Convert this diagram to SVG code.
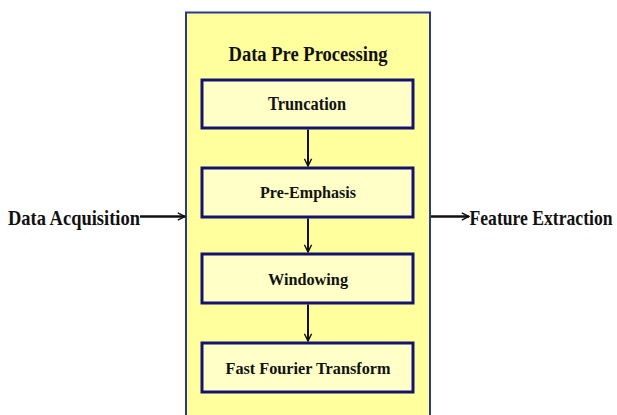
<svg xmlns="http://www.w3.org/2000/svg" width="617" height="415" viewBox="0 0 617 415">
<style>
text{font-family:"Liberation Serif","Times New Roman",serif;font-weight:bold;fill:#111;text-anchor:middle}
.box{fill:#FFFFC8;stroke:#14146E;stroke-width:3}
.conn{stroke:#111;stroke-width:2;fill:none}
.side{stroke:#111;stroke-width:2.6;fill:none}
</style>
<defs>
<marker id="chev" viewBox="0 0 10 10" refX="9" refY="5" markerWidth="9" markerHeight="9" markerUnits="userSpaceOnUse" orient="auto">
<path d="M1,1 L9,5 L1,9" fill="none" stroke="#111" stroke-width="1.6"/>
</marker>
</defs>
<rect width="617" height="415" fill="#fff"/>
<g id="container">
<rect x="186" y="12.5" width="244" height="420" fill="#FFFF9E" stroke="#2A3A8C" stroke-width="2"/>
<text x="308" y="61" font-size="20" textLength="159" lengthAdjust="spacingAndGlyphs">Data Pre Processing</text>
</g>
<g id="truncation">
<rect class="box" x="202" y="80" width="211" height="48"/>
<text x="307" y="110" font-size="18" textLength="78" lengthAdjust="spacingAndGlyphs">Truncation</text>
</g>
<g id="preemphasis">
<rect class="box" x="202" y="168" width="211" height="49"/>
<text x="308" y="197.5" font-size="17.5" textLength="96" lengthAdjust="spacingAndGlyphs">Pre-Emphasis</text>
</g>
<g id="windowing">
<rect class="box" x="202" y="254" width="211" height="49"/>
<text x="308" y="284.5" font-size="17.5" textLength="80" lengthAdjust="spacingAndGlyphs">Windowing</text>
</g>
<g id="fft">
<rect class="box" x="202" y="343" width="211" height="49"/>
<text x="308" y="373.5" font-size="17.5" textLength="165" lengthAdjust="spacingAndGlyphs">Fast Fourier Transform</text>
</g>
<g id="data-acquisition">
<text transform="translate(74,225) scale(1,1.12)" x="0" y="0" font-size="18" textLength="132" lengthAdjust="spacingAndGlyphs">Data Acquisition</text>
</g>
<g id="feature-extraction">
<text transform="translate(541,225) scale(1,1.12)" x="0" y="0" font-size="18" textLength="143" lengthAdjust="spacingAndGlyphs">Feature Extraction</text>
</g>
<g id="connectors">
<line class="conn" x1="308" y1="129.5" x2="308" y2="166" marker-end="url(#chev)"/>
<line class="conn" x1="308" y1="218.5" x2="308" y2="252" marker-end="url(#chev)"/>
<line class="conn" x1="308" y1="304.5" x2="308" y2="341" marker-end="url(#chev)"/>
<line class="side" x1="140" y1="216.5" x2="185" y2="216.5" marker-end="url(#chev)"/>
<line class="side" x1="431" y1="216.5" x2="469" y2="216.5" marker-end="url(#chev)"/>
</g>
</svg>
